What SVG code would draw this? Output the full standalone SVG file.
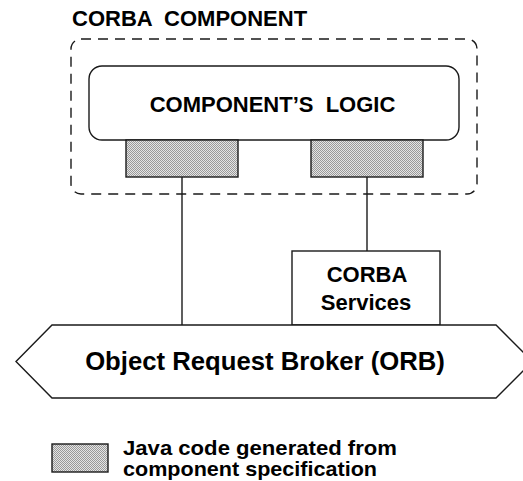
<svg xmlns="http://www.w3.org/2000/svg" width="523" height="481" viewBox="0 0 523 481">
<style>
.t{font-family:"Liberation Sans",Arial,sans-serif;font-weight:bold;fill:#000}
.s{fill:none;stroke:#1a1a1a;stroke-width:1.4}
.w{fill:#fff;stroke:#1a1a1a;stroke-width:1.4}
.g{fill:url(#stip);stroke:#1a1a1a;stroke-width:1.4}
</style>
<defs>
<pattern id="stip" width="2" height="2" patternUnits="userSpaceOnUse">
<rect width="2" height="2" fill="#e4e4e4"/>
<rect width="1" height="1" fill="#999"/>
<rect x="1" y="1" width="1" height="1" fill="#999"/>
</pattern>
</defs>
<rect width="523" height="481" fill="#fff"/>
<g id="corba-component">
<text class="t" x="72" y="26" font-size="22" xml:space="preserve">CORBA  COMPONENT</text>
<rect x="71" y="39" width="406" height="155" rx="10" class="s" stroke-dasharray="10 7"/>
</g>
<g id="connectors">
<line x1="182" y1="177" x2="182" y2="325" class="s"/>
<line x1="367" y1="177" x2="367" y2="251" class="s"/>
</g>
<g id="logic">
<rect x="89" y="66" width="370" height="74" rx="13" class="w"/>
<text class="t" x="272.5" y="112" font-size="22" text-anchor="middle" xml:space="preserve">COMPONENT’S  LOGIC</text>
</g>
<g id="stub-left">
<rect x="126" y="140" width="112" height="37" class="g"/>
</g>
<g id="stub-right">
<rect x="311" y="140" width="112" height="37" class="g"/>
</g>
<g id="services">
<rect x="292" y="251" width="148" height="74" class="w"/>
<text class="t" x="367" y="282" font-size="22" text-anchor="middle">CORBA</text>
<text class="t" x="366" y="310" font-size="22" text-anchor="middle">Services</text>
</g>
<g id="orb">
<polygon points="52,325 496,325 532.5,361.5 496,398 52,398 16,361.5" class="w"/>
<text class="t" x="265" y="370" font-size="25.7" text-anchor="middle">Object Request Broker (ORB)</text>
</g>
<g id="legend">
<rect x="52" y="444" width="56" height="28" class="g"/>
<text class="t" x="123" y="455" font-size="20.5" textLength="274" lengthAdjust="spacingAndGlyphs">Java code generated from</text>
<text class="t" x="123" y="476" font-size="20.5" textLength="254" lengthAdjust="spacingAndGlyphs">component specification</text>
</g>
</svg>
